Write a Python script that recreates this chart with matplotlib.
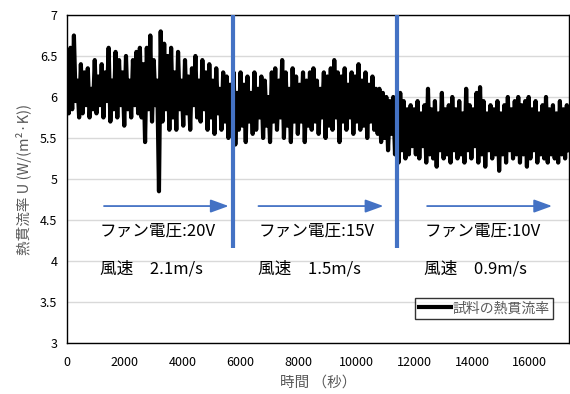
import matplotlib
matplotlib.use("Agg")
import matplotlib.pyplot as plt
import numpy as np

plt.rcParams['font.family'] = ['Noto Sans CJK JP', 'DejaVu Sans']

# sampling interval of the measurement (seconds)
t_step = 60

# heat transmission coefficient U
u_values = [
    6.45, 5.8, 6.6, 5.85, 6.75, 5.95, 6.2, 5.75, 6.4, 5.8, 6.3, 5.9, 6.35, 5.75, 6.1, 5.85, 6.45, 5.8, 6.25, 5.9,
    6.4, 5.75, 6.3, 5.95, 6.6, 5.7, 6.2, 5.85, 6.55, 5.75, 6.45, 5.9, 6.3, 5.65, 6.5, 5.85, 6.2, 5.75, 6.45, 5.9,
    6.55, 5.8, 6.6, 5.75, 6.4, 5.45, 6.6, 5.85, 6.75, 5.7, 6.45, 5.9, 6.2, 4.85, 6.8, 5.7, 6.65, 5.85, 6.5, 5.6,
    6.6, 5.75, 6.3, 5.6, 6.55, 5.85, 6.2, 5.65, 6.45, 5.8, 6.25, 5.6, 6.35, 5.9, 6.5, 5.75, 6.2, 5.7, 6.45, 5.85,
    6.3, 5.6, 6.4, 5.75, 6.2, 5.55, 6.35, 5.8, 6.1, 5.6, 6.3, 5.7, 6.25, 5.5, 6.15, 5.75, 6.3, 5.42, 6.05, 5.6,
    6.3, 5.65, 6.15, 5.45, 6.25, 5.7, 6.05, 5.55, 6.3, 5.6, 6.1, 5.75, 6.25, 5.5, 6.2, 5.65, 6.0, 5.45, 6.3, 5.7,
    6.35, 5.6, 6.2, 5.75, 6.45, 5.5, 6.3, 5.65, 6.1, 5.45, 6.35, 5.7, 6.25, 5.55, 6.15, 5.7, 6.3, 5.45, 6.2, 5.65,
    6.3, 5.6, 6.35, 5.7, 6.2, 5.55, 6.1, 5.75, 6.3, 5.5, 6.25, 5.65, 6.35, 5.6, 6.45, 5.75, 6.3, 5.45, 6.25, 5.7,
    6.35, 5.6, 6.15, 5.75, 6.3, 5.55, 6.25, 5.7, 6.4, 5.6, 6.2, 5.65, 6.3, 5.5, 6.15, 5.7, 6.25, 5.6, 6.1, 5.55,
    6.1, 5.45, 6.05, 5.5, 6.0, 5.35, 5.95, 5.55, 6.0, 5.3, 5.9, 5.2, 6.05, 5.35, 5.95, 5.25, 5.85, 5.3, 5.9, 5.4,
    5.85, 5.3, 5.95, 5.25, 5.8, 5.4, 5.9, 5.2, 6.1, 5.3, 5.85, 5.25, 5.95, 5.15, 5.8, 5.35, 6.05, 5.25, 5.85, 5.3,
    5.9, 5.2, 6.0, 5.35, 5.85, 5.25, 5.95, 5.3, 5.8, 5.2, 6.1, 5.35, 5.9, 5.25, 5.85, 5.4, 6.05, 5.2, 6.12, 5.3,
    5.95, 5.15, 5.8, 5.35, 5.9, 5.25, 5.85, 5.3, 5.95, 5.1, 5.8, 5.3, 5.9, 5.2, 6.0, 5.35, 5.85, 5.25, 5.95, 5.3,
    6.0, 5.2, 5.9, 5.3, 5.95, 5.15, 6.0, 5.25, 5.85, 5.35, 5.95, 5.2, 5.8, 5.3, 5.9, 5.25, 6.0, 5.2, 5.85, 5.3,
    5.9, 5.25, 5.8, 5.2, 5.95, 5.3, 5.85, 5.25, 5.9, 5.35,
]
times = np.arange(len(u_values)) * t_step

# fan voltage change times (s)
switch_times = [5730, 11420]

# condition labels
fan_labels = ["ファン電圧:20V", "ファン電圧:15V", "ファン電圧:10V"]
wind_labels = ["風速　2.1m/s", "風速　1.5m/s", "風速　0.9m/s"]
label_x = [1140, 6620, 12350]
arrow_spans = [(1280, 5590), (6620, 10940), (12450, 16770)]

blue = "#4472C4"
gray = "#595959"

fig = plt.figure(figsize=(5.7, 3.94), dpi=100)
ax = fig.add_axes([0.1175, 0.1294, 0.8805, 0.8326])

ax.plot(times, u_values, color="black", lw=3, label="試料の熱貫流率", zorder=3)

for st in switch_times:
    ax.plot([st, st], [7, 4.16], color=blue, lw=3, zorder=4, solid_capstyle="butt")

for (x0, x1) in arrow_spans:
    ax.annotate("", xy=(x1, 4.67), xytext=(x0, 4.67),
                arrowprops=dict(arrowstyle="-|>,head_length=1.1,head_width=0.4",
                                color=blue, lw=1.3, shrinkA=0, shrinkB=0))

for x, f, w in zip(label_x, fan_labels, wind_labels):
    ax.text(x, 4.37, f, fontsize=12, va="center", ha="left", color="black")
    ax.text(x, 3.9, w, fontsize=12, va="center", ha="left", color="black")

ax.set_xlim(0, 17350)
ax.set_ylim(3, 7)
ax.set_xticks(np.arange(0, 17000, 2000))
ax.set_yticks(np.arange(3, 7.01, 0.5))
ax.set_yticklabels(["3", "3.5", "4", "4.5", "5", "5.5", "6", "6.5", "7"])
ax.yaxis.grid(True, color="#d9d9d9", lw=1)
ax.set_axisbelow(True)
ax.tick_params(length=0, labelsize=9, labelcolor="black")
ax.tick_params(axis="x", pad=9)
ax.tick_params(axis="y", pad=7)

for s in ax.spines.values():
    s.set_color("black")
    s.set_linewidth(1)

ax.set_xlabel("時間 （秒）", fontsize=10.5, color=gray, labelpad=5)
ax.set_ylabel("熱貫流率 U (W/(m²·K))", fontsize=10.5, color=gray, labelpad=6)

leg = ax.legend(loc="lower right", bbox_to_anchor=(0.968, 0.074), borderaxespad=0,
                fontsize=10, frameon=True, fancybox=False, handlelength=2.3,
                borderpad=0.25, handletextpad=0.1)
leg.get_frame().set_edgecolor("black")
leg.get_frame().set_linewidth(1)
for t in leg.get_texts():
    t.set_color(gray)

fig.savefig("out.png", dpi=100)
